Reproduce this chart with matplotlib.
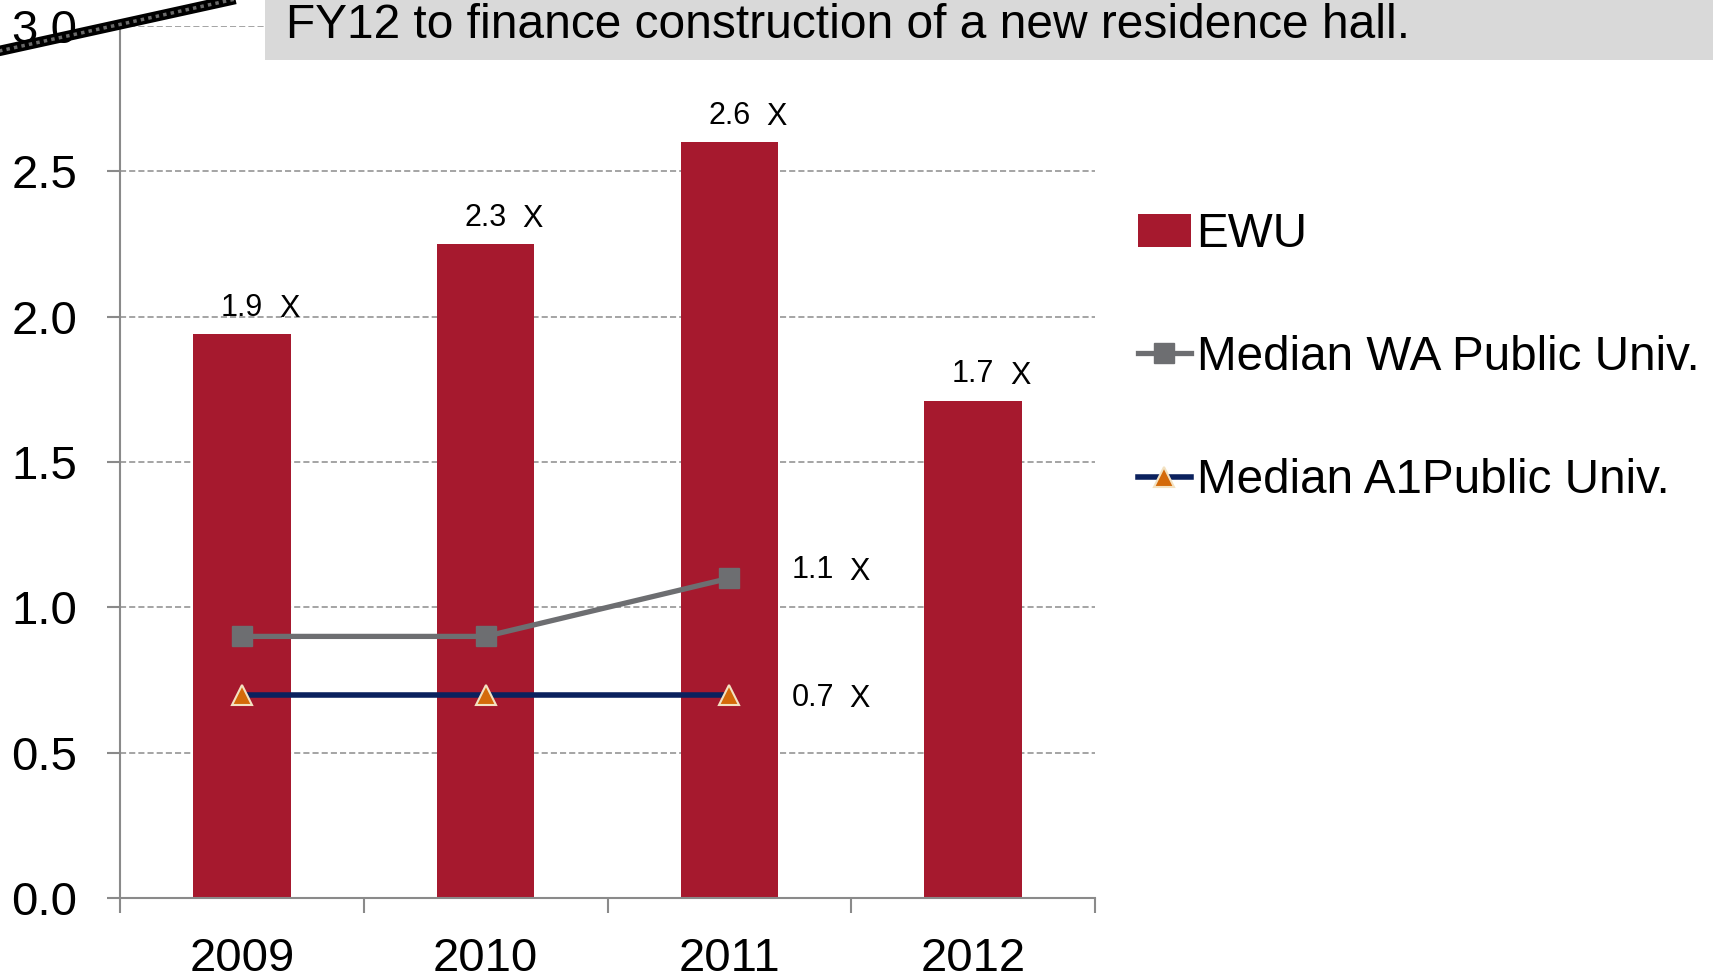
import matplotlib
matplotlib.use("Agg")
import matplotlib.pyplot as plt
from matplotlib.patches import Rectangle
from matplotlib.lines import Line2D

plt.rcParams['font.family'] = ['Liberation Sans', 'DejaVu Sans']

# ---- data ----
years = ["2009", "2010", "2011", "2012"]
ewu = [1.94, 2.25, 2.60, 1.71]
ewu_labels = ["1.9", "2.3", "2.6", "1.7"]
wa_median = [0.9, 0.9, 1.1]
a1_median = [0.7, 0.7, 0.7]
wa_label = "1.1"
a1_label = "0.7"
series_names = ["EWU", "Median WA Public Univ.", "Median A1Public Univ."]
yticks = [0.0, 0.5, 1.0, 1.5, 2.0, 2.5, 3.0]
title = "FY12 to finance construction of a new residence hall."

W, H = 1713, 977
PX = 72 / 100  # points per pixel at dpi 100

bar_color = "#A6192E"
wa_color = "#6D6E71"
a1_color = "#0B215E"
tri_color = "#D46A0A"
tri_edge = "#F3E2C2"
axis_gray = "#8A8A8A"

fig = plt.figure(figsize=(W / 100, H / 100), dpi=100)
ax = fig.add_axes([120 / W, 1 - 898 / H, (1095 - 120) / W, (898 - 26) / H])

xs = list(range(len(years)))
bars = ax.bar(xs, ewu, width=0.4, color=bar_color, zorder=2, label=series_names[0])
l1, = ax.plot(xs[:len(wa_median)], wa_median, color=wa_color, lw=3.8, marker='s',
              markersize=14.5, markerfacecolor=wa_color, markeredgecolor=wa_color,
              zorder=3, label=series_names[1])
l2, = ax.plot(xs[:len(a1_median)], a1_median, color=a1_color, lw=4.0, marker='^',
              markersize=14, markerfacecolor=tri_color, markeredgecolor=tri_edge,
              markeredgewidth=1.5, zorder=3, label=series_names[2])

ax.set_xlim(-0.5, len(years) - 0.5)
ax.set_ylim(0, 3.0)

# axes styling
for s in ['top', 'right']:
    ax.spines[s].set_visible(False)
for s in ['left', 'bottom']:
    ax.spines[s].set_color(axis_gray)
    ax.spines[s].set_linewidth(1.5)

ax.set_yticks(yticks)
ax.set_yticklabels([f"{v:.1f}" for v in yticks])
ax.tick_params(axis='y', length=13 * PX, width=1.5, color=axis_gray, pad=30 * PX,
               labelsize=34, direction='out')
ax.set_xticks([i - 0.5 for i in range(len(years) + 1)])
ax.set_xticklabels([])
ax.tick_params(axis='x', which='major', length=15 * PX, width=1.5, color=axis_gray,
               direction='out')
ax.set_xticks(xs, minor=True)
ax.set_xticklabels(years, minor=True)
ax.tick_params(axis='x', which='minor', length=0, pad=28, labelsize=34)

ax.yaxis.grid(True, color="#8C8C8C", linestyle=(0, (4, 2)), linewidth=1.1, zorder=0)
ax.set_axisbelow(True)

# data labels on bars
for i, (v, lab) in enumerate(zip(ewu, ewu_labels)):
    ax.annotate(lab, xy=(i, v), xytext=(0, 18.5 * PX), textcoords='offset points',
                ha='center', va='baseline', fontsize=22)
    ax.annotate("X", xy=(i, v), xytext=(37 * PX, 17 * PX), textcoords='offset points',
                ha='left', va='baseline', fontsize=22)

# labels for the lines
for vals, lab, dy in [(wa_median, wa_label, 0), (a1_median, a1_label, -11)]:
    i = len(vals) - 1
    ax.annotate(lab, xy=(i, vals[-1]), xytext=(62 * PX, dy * PX), textcoords='offset points',
                ha='left', va='baseline', fontsize=22)
    ax.annotate("X", xy=(i, vals[-1]), xytext=(120 * PX, (dy - 1.5) * PX),
                textcoords='offset points', ha='left', va='baseline', fontsize=22)

# legend
leg = fig.legend(handles=[bars, l1, l2], labels=series_names, loc='upper left',
                 bbox_to_anchor=(1138 / W, 1 - 212 / H), frameon=False, fontsize=34.3,
                 handlelength=1.11, handletextpad=0.12, labelspacing=1.64,
                 borderpad=0, borderaxespad=0)

# title box
fig.patches.append(Rectangle((265 / W, 1 - 60 / H), 1 - 265 / W, 60 / H,
                             transform=fig.transFigure, facecolor="#D9D9D9",
                             edgecolor='none', zorder=5))
fig.text(286 / W, 1 - 38 / H, title, fontsize=34.5, ha='left', va='baseline', zorder=6)

# decorative diagonal stroke at top-left
fig.lines.append(Line2D([-10 / W, 240 / W], [1 - 53 / H, 1 + 2 / H], transform=fig.transFigure,
                        color='black', lw=7.5, solid_capstyle='butt', zorder=7))
fig.lines.append(Line2D([-10 / W, 240 / W], [1 - 53 / H, 1 + 2 / H], transform=fig.transFigure,
                        color='#6a6a6a', lw=2.5, linestyle=(0, (1, 1.2)), zorder=8))

fig.savefig("out.png", dpi=100)
